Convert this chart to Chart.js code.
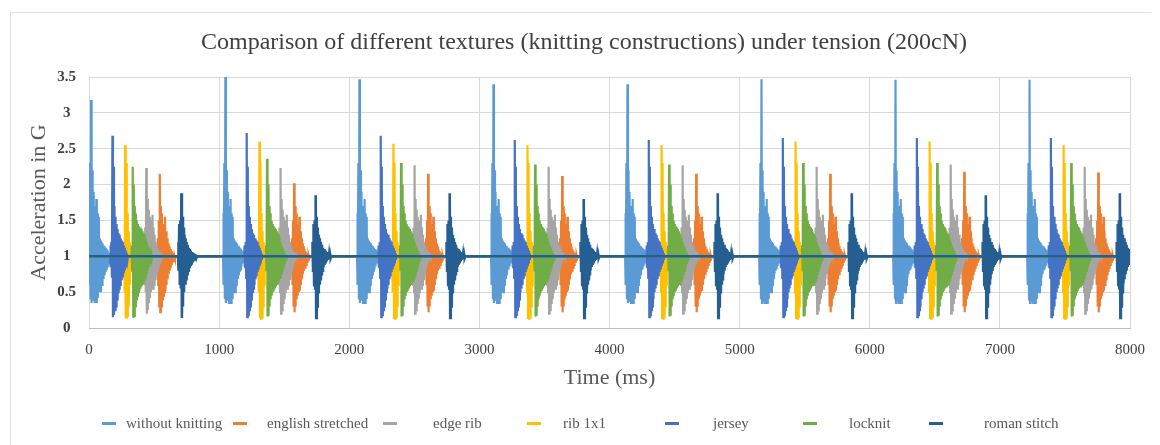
<!DOCTYPE html>
<html>
<head>
<meta charset="utf-8">
<script src="https://cdn.jsdelivr.net/npm/chart.js@4.4.1/dist/chart.umd.min.js"></script>
<style>
  body { margin: 0; background: #fff; }
  #wrap { position: relative; width: 1160px; height: 445px; overflow: hidden; }
  #frame { position: absolute; left: 10px; top: 12px; width: 1140px; height: 440px;
           border-left: 1px solid #e3e3e3; border-top: 1px solid #e3e3e3; }
  #chart { position: absolute; left: 0; top: 0; }
  #title { position: absolute; left: 0; width: 1168px; top: 28px; line-height: 28px; text-align: center;
           font: 24px "Liberation Serif", serif; color: #404040; white-space: nowrap; }
  .lg-mark { position: absolute; width: 14px; height: 3px; top: 422px; }
  .lg-text { position: absolute; top: 413px; font: 15px "Liberation Serif", serif; color: #595959; white-space: nowrap; line-height: 20px; }
</style>
</head>
<body>
<div id="wrap">
  <div id="frame"></div>
  <canvas id="chart" width="1160" height="445"></canvas>
  <div id="title">Comparison of different textures (knitting constructions) under tension (200cN)</div>
</div>
<script>
// ---- data ----
const seriesNames = ["without knitting", "english stretched", "edge rib", "rib 1x1", "jersey", "locknit", "roman stitch"];

// start of each tension cycle (ms)
const cycleStarts = [0, 1032, 2062, 3092, 4122, 5152, 6182, 7212];

// burst envelopes, one sample every 8 ms after the onset (G)
const withoutOnset = 0;
const withoutUpper = [1.6, 2.3, 3.18, 2.2, 1.9, 1.7, 1.65, 1.8, 1.6, 1.55, 1.25, 1.22, 1.2, 1.18, 1.15, 1.14, 1.12, 1.1, 1.08, 1.05, 1.02];
const withoutLower = [0.6, 0.4, 0.35, 0.38, 0.4, 0.35, 0.38, 0.35, 0.42, 0.5, 0.55, 0.5, 0.6, 0.7, 0.75, 0.8, 0.82, 0.86, 0.9, 0.94, 0.97];
const withoutPeaks = [3.18, 3.5, 3.47, 3.4, 3.4, 3.47, 3.46, 3.46];

const englishOnset = 528;
const englishUpper = [1.25, 1.5, 2.15, 1.7, 1.6, 1.45, 1.4, 1.55, 1.35, 1.25, 1.18, 1.14, 1.1, 1.07, 1.05, 1.03, 1.01];
const englishLower = [0.6, 0.3, 0.22, 0.3, 0.4, 0.45, 0.5, 0.52, 0.6, 0.68, 0.75, 0.8, 0.84, 0.88, 0.92, 0.95, 0.98];
const englishPeaks = [2.15, 2.02, 2.15, 2.12, 2.15, 2.15, 2.18, 2.17];

const edgeOnset = 424;
const edgeUpper = [1.3, 1.4, 2.23, 1.8, 1.65, 1.55, 1.5, 1.45, 1.58, 1.4, 1.3, 1.2, 1.15, 1.1, 1.07, 1.05, 1.03, 1.01];
const edgeLower = [0.6, 0.5, 0.2, 0.25, 0.35, 0.42, 0.5, 0.55, 0.55, 0.6, 0.68, 0.75, 0.8, 0.85, 0.9, 0.93, 0.96, 0.99];
const edgePeaks = [2.23, 2.23, 2.27, 2.25, 2.27, 2.25, 2.28, 2.25];

const ribOnset = 270;
const ribUpper = [1.2, 2.55, 2.3, 1.6, 1.35, 1.2, 1.1, 1.03];
const ribLower = [0.5, 0.14, 0.13, 0.15, 0.3, 0.6, 0.8, 0.95];
const ribPeaks = [2.55, 2.6, 2.57, 2.55, 2.55, 2.6, 2.6, 2.55];

const jerseyOnset = 164;
const jerseyUpper = [1.15, 1.2, 2.68, 2.25, 1.7, 1.55, 1.45, 1.38, 1.32, 1.3, 1.25, 1.22, 1.2, 1.15, 1.12, 1.08, 1.04];
const jerseyLower = [0.85, 0.7, 0.15, 0.18, 0.25, 0.3, 0.4, 0.5, 0.55, 0.6, 0.68, 0.72, 0.78, 0.82, 0.86, 0.9, 0.95];
const jerseyPeaks = [2.68, 2.72, 2.68, 2.62, 2.62, 2.65, 2.65, 2.65];

const locknitOnset = 328;
const locknitUpper = [1.15, 2.25, 2.0, 1.7, 1.6, 1.5, 1.45, 1.42, 1.4, 1.38, 1.35, 1.32, 1.3, 1.25, 1.2, 1.15, 1.12, 1.08, 1.05, 1.02];
const locknitLower = [0.8, 0.16, 0.17, 0.3, 0.4, 0.45, 0.5, 0.52, 0.55, 0.58, 0.6, 0.62, 0.66, 0.7, 0.75, 0.8, 0.85, 0.9, 0.94, 0.97];
const locknitPeaks = [2.25, 2.36, 2.3, 2.28, 2.28, 2.3, 2.3, 2.3];

const romanOnset = 686;
const romanUpper = [1.2, 1.45, 1.5, 1.88, 1.55, 1.4, 1.3, 1.25, 1.2, 1.16, 1.12, 1.1, 1.08, 1.06, 1.05, 1.04, 1.03, 1.02];
const romanLower = [0.8, 0.6, 0.55, 0.14, 0.3, 0.5, 0.62, 0.68, 0.75, 0.8, 0.85, 0.88, 0.9, 0.93, 0.95, 0.96, 0.97, 0.98];
const romanPeaks = [1.88, 1.85, 1.88, 1.8, 1.88, 1.88, 1.85, 1.88];

const xTicks = [0, 1000, 2000, 3000, 4000, 5000, 6000, 7000, 8000];
const yTicks = [0, 0.5, 1, 1.5, 2, 2.5, 3, 3.5];

// ---- styles ----
const seriesColors = ["#5B9BD5", "#ED7D31", "#A5A5A5", "#FFC000", "#4472C4", "#70AD47", "#255E91"];
const serif = '"Liberation Serif", "Times New Roman", serif';

// turn an envelope into a trace that swings between its upper and lower values
function buildTrace(onset, upper, lower, peaks) {
  const step = 8;
  let peakIdx = 0;
  upper.forEach((v, i) => { if (v > upper[peakIdx]) peakIdx = i; });
  const pts = [{x: 0, y: 1}];
  cycleStarts.forEach((start, c) => {
    const t0 = start + onset;
    pts.push({x: t0 - 2, y: 1});
    upper.forEach((u, i) => {
      const t = t0 + i * step;
      pts.push({x: t, y: i === peakIdx ? peaks[c] : u});
      pts.push({x: t + step / 2, y: lower[i]});
    });
    pts.push({x: t0 + upper.length * step, y: 1});
  });
  pts.push({x: 8000, y: 1});
  return pts.filter((p, i) => i === 0 || p.x >= pts[i - 1].x);
}

const traces = [
  buildTrace(withoutOnset, withoutUpper, withoutLower, withoutPeaks),
  buildTrace(englishOnset, englishUpper, englishLower, englishPeaks),
  buildTrace(edgeOnset, edgeUpper, edgeLower, edgePeaks),
  buildTrace(ribOnset, ribUpper, ribLower, ribPeaks),
  buildTrace(jerseyOnset, jerseyUpper, jerseyLower, jerseyPeaks),
  buildTrace(locknitOnset, locknitUpper, locknitLower, locknitPeaks),
  buildTrace(romanOnset, romanUpper, romanLower, romanPeaks)
];

const datasets = seriesNames.map((name, i) => ({
  label: name,
  data: traces[i],
  borderColor: seriesColors[i],
  backgroundColor: seriesColors[i],
  borderWidth: i === 6 ? 2.6 : 2.2,
  borderJoinStyle: "miter",
  pointRadius: 0,
  tension: 0,
  fill: false,
  order: seriesNames.length - 1 - i  // later series painted on top
}));

new Chart(document.getElementById("chart"), {
  type: "line",
  data: { datasets: datasets },
  options: {
    responsive: false,
    animation: false,
    events: [],
    layout: { padding: { left: 10, right: 30, top: 77, bottom: 50 } },
    plugins: {
      legend: { display: false },
      tooltip: { enabled: false },
      title: { display: false }
    },
    scales: {
      x: {
        type: "linear",
        min: 0, max: 8000,
        afterBuildTicks: s => { s.ticks = xTicks.map(v => ({value: v})); },
        ticks: { callback: v => String(v), color: "#404040", font: { family: serif, size: 15 }, padding: 13, maxRotation: 0, autoSkip: false },
        grid: { color: "#d9d9d9", drawTicks: false },
        border: { color: "#bfbfbf" },
        title: { display: true, text: "Time (ms)", color: "#595959", font: { family: serif, size: 22 }, padding: { top: 0, bottom: 4 } },
        afterFit: s => { s.height = 67; }
      },
      y: {
        min: 0, max: 3.5,
        afterBuildTicks: s => { s.ticks = yTicks.map(v => ({value: v})); },
        ticks: { callback: v => String(v), color: "#404040", font: { family: serif, size: 15, weight: "bold" }, padding: 13, crossAlign: "center" },
        grid: { color: "#d9d9d9", drawTicks: false },
        border: { display: false },
        title: { display: true, text: "Acceleration in G", color: "#595959", font: { family: serif, size: 22 }, padding: { top: 16, bottom: 0 } },
        afterFit: s => { s.width = 79; }
      }
    }
  }
});

// legend below the axis, laid out like the original
const legendMarks = [102, 233, 383, 527, 665, 803, 929];
const legendTexts = [126, 267, 433, 563, 713, 849, 984];
const wrap = document.getElementById("wrap");
seriesNames.forEach((name, i) => {
  const m = document.createElement("div");
  m.className = "lg-mark";
  m.style.left = legendMarks[i] + "px";
  m.style.background = seriesColors[i];
  wrap.appendChild(m);
  const t = document.createElement("div");
  t.className = "lg-text";
  t.style.left = legendTexts[i] + "px";
  t.textContent = name;
  wrap.appendChild(t);
});
</script>
</body>
</html>
